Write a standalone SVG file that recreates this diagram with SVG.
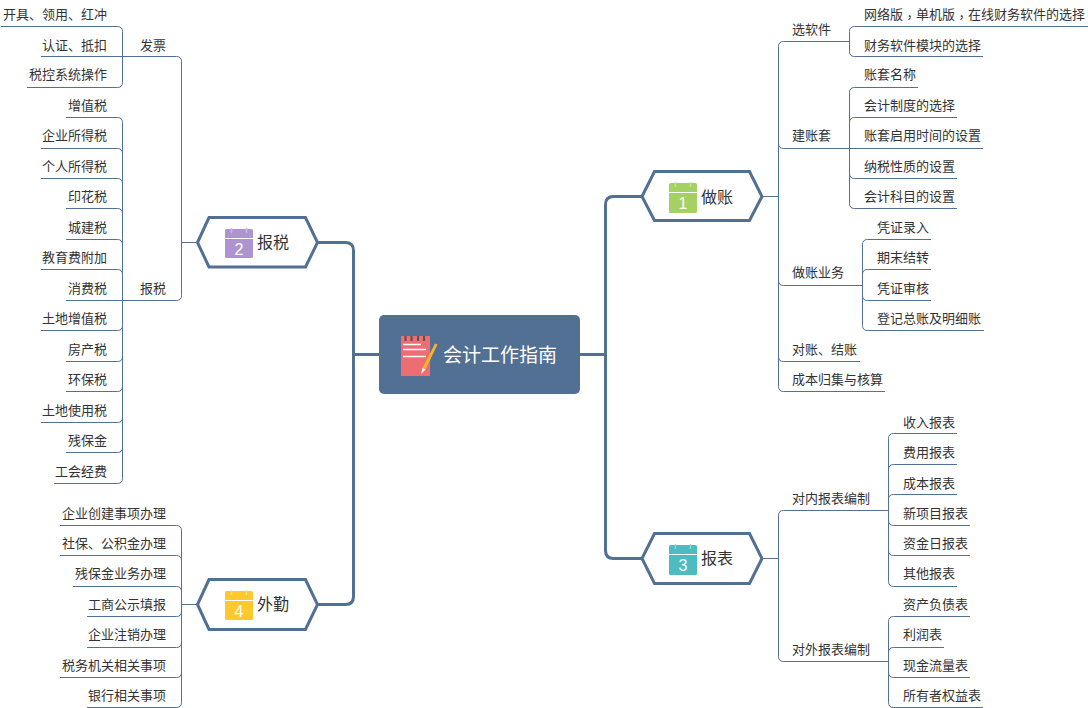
<svg xmlns="http://www.w3.org/2000/svg" width="1088" height="708" viewBox="0 0 1088 708">
<style>
text{font-family:"Noto Sans CJK SC","Liberation Sans",sans-serif;font-size:13px;fill:#333}
.e{text-anchor:end}
.thin{fill:none;stroke:#517093;stroke-width:1}
.thick{fill:none;stroke:#517093;stroke-width:3}
.hex{fill:#fff;stroke:#517093;stroke-width:3}
.h{font-size:16px}
.num{font-family:"Liberation Sans",sans-serif;font-size:16px;fill:#fff;text-anchor:middle}
.cut{fill:none;stroke:#fff;stroke-width:1}
.tc{font-family:"Noto Sans CJK TC",sans-serif}
</style>
<rect width="1088" height="708" fill="#fff"/>
<g id="connectors">
<path class="thick" d="M580 354.500H605.500M641 196.500H613.500Q605.500 196.500 605.500 204.500V550.500Q605.500 558.500 613.500 558.500H641"/>
<path class="thick" d="M379 354.500H353.500M318 242.500H345.500Q353.500 242.500 353.500 250.500V596.500Q353.500 604.500 345.500 604.500H318"/>
<path class="thin" d="M762 196.500H778.500M850 41.500H783.500Q778.500 41.500 778.500 46.500V386.500Q778.500 391.500 783.500 391.500H885M778.500 143.500Q778.500 148.500 783.500 148.500H850M778.500 280.500Q778.500 285.500 783.500 285.500H862.500M778.500 356.500Q778.500 361.500 783.500 361.500H860"/>
<path class="thin" d="M1088 26.500H854.500Q849.500 26.500 849.500 31.500V51.500Q849.500 56.500 854.500 56.500H983"/>
<path class="thin" d="M918 87.500H854.500Q849.500 87.500 849.500 92.500V203.500Q849.500 208.500 854.500 208.500H957M957 117.500H854.500Q849.500 117.500 849.500 122.500M850 148.500H983M849.500 173.500Q849.500 178.500 854.500 178.500H957"/>
<path class="thin" d="M931 239.500H867.500Q862.500 239.500 862.500 244.500V325.500Q862.500 330.500 867.500 330.500H984M931 269.500H867.500Q862.500 269.500 862.500 274.500M862.500 295.500Q862.500 300.500 867.500 300.500H931"/>
<path class="thin" d="M762 558.500H778.500M889 510.500H783.500Q778.500 510.500 778.500 515.500V656.500Q778.500 661.500 783.500 661.500H889"/>
<path class="thin" d="M957 433.500H893.500Q888.500 433.500 888.500 438.500V581.500Q888.500 586.500 893.500 586.500H957M957 464.500H893.500Q888.500 464.500 888.500 469.500M957 494.500H893.500Q888.500 494.500 888.500 499.500M888.500 520.500Q888.500 525.500 893.500 525.500H970M888.500 550.500Q888.500 555.500 893.500 555.500H970"/>
<path class="thin" d="M970 616.500H893.500Q888.500 616.500 888.500 621.500V702.500Q888.500 707.500 893.500 707.500H983M944 647.500H893.500Q888.500 647.500 888.500 652.500M888.500 672.500Q888.500 677.500 893.500 677.500H970"/>
<path class="thin" d="M197 242.500H181.500M123 56.500H176.500Q181.500 56.500 181.500 61.500V295.500Q181.500 300.500 176.500 300.500H66"/>
<path class="thin" d="M1 26.500H117.500Q122.500 26.500 122.500 31.500V82.500Q122.500 87.500 117.500 87.500H27M41 56.500H123"/>
<path class="thin" d="M66 117.500H117.500Q122.500 117.500 122.500 122.500V478.500Q122.500 483.500 117.500 483.500H54M41 148.500H117.500Q122.500 148.500 122.500 153.500M41 178.500H117.500Q122.500 178.500 122.500 183.500M66 208.500H117.500Q122.500 208.500 122.500 213.500M66 239.500H117.500Q122.500 239.500 122.500 244.500M41 269.500H117.500Q122.500 269.500 122.500 274.500M122.500 325.500Q122.500 330.500 117.500 330.500H41M122.500 356.500Q122.500 361.500 117.500 361.500H66M122.500 386.500Q122.500 391.500 117.500 391.500H66M122.500 417.500Q122.500 422.500 117.500 422.500H41M122.500 447.500Q122.500 452.500 117.500 452.500H66"/>
<path class="thin" d="M197 604.500H181.500M60 525.500H176.500Q181.500 525.500 181.500 530.500V702.500Q181.500 707.500 176.500 707.500H87M60 555.500H176.500Q181.500 555.500 181.500 560.500M73 586.500H176.500Q181.500 586.500 181.500 591.500M181.500 611.500Q181.500 616.500 176.500 616.500H87M181.500 642.500Q181.500 647.500 176.500 647.500H87M181.500 672.500Q181.500 677.500 176.500 677.500H60"/>
</g>
<g id="root">
<rect x="379" y="315" width="201" height="79" rx="5" fill="#517093"/>
<rect x="401" y="336" width="29" height="40" fill="#ec6d72"/>
<path d="M405.500 336v5M411.500 336v5M418 336v5M424 336v5" stroke="#555" stroke-width="2" fill="none"/>
<path d="M403 344.500h18M403 349.500h23M403 356.500h23" stroke="#fff" stroke-width="1.500" fill="none"/>
<path d="M435 343.500L437.500 344.500L425.500 369.500L422.500 368Z" fill="#fbb12c"/>
<path d="M422.500 368L425.500 369.500L421 374Z" fill="#fff"/>
<text x="443" y="361.500" style="font-size:19px;fill:#fff">会计工作指南</text>
</g>
<g id="n1">
<path class="hex" d="M642 196.500L654.500 171.500H749.500L762 196.500L749.500 220.500H654.500Z"/>
<rect x="669" y="183" width="28" height="30" rx="1.500" fill="#a5d063"/>
<path class="cut" d="M669 192.500H697"/>
<path d="M675.500 182v5M690.500 182v5" stroke="#c6e098" stroke-width="1.500"/>
<text class="num" x="683" y="209">1</text>
<text class="h" x="701" y="203">做账</text>
</g>
<g id="n2">
<path class="hex" d="M197.500 242.500L209 217.500H305.500L317.500 242.500L305.500 267H209Z"/>
<rect x="225" y="229" width="28" height="29" rx="1.500" fill="#ad93cf"/>
<path class="cut" d="M225 238.500H253"/>
<path d="M231.500 228v5M246.500 228v5" stroke="#cbb9e2" stroke-width="1.500"/>
<text class="num" x="239" y="255">2</text>
<text class="h" x="257" y="248">报税</text>
</g>
<g id="n3">
<path class="hex" d="M642 558.500L654.500 533.500H749.500L762 558.500L749.500 583.500H654.500Z"/>
<rect x="669" y="545" width="28" height="30" rx="1.500" fill="#4dbcc1"/>
<path class="cut" d="M669 554.500H697"/>
<path d="M675.500 544v5M690.500 544v5" stroke="#8ad6d9" stroke-width="1.500"/>
<text class="num" x="683" y="571">3</text>
<text class="h" x="701" y="564">报表</text>
</g>
<g id="n4">
<path class="hex" d="M197.500 604.500L209 579.500H305.500L317.500 604.500L305.500 629.500H209Z"/>
<rect x="225" y="591" width="28" height="29" rx="1.500" fill="#fdc92f"/>
<path class="cut" d="M225 600.500H253"/>
<path d="M231.500 590v5M246.500 590v5" stroke="#fde08a" stroke-width="1.500"/>
<text class="num" x="239" y="617">4</text>
<text class="h" x="257" y="610">外勤</text>
</g>
<g id="r1" transform="translate(0 .5)">
<text x="792" y="33">选软件</text><text x="864" y="18">网络版<tspan class="tc" dy="3">，</tspan><tspan dy="-3">单机版</tspan><tspan class="tc" dy="3">，</tspan><tspan dy="-3">在线财务软件的选择</tspan></text><text x="864" y="49">财务软件模块的选择</text>
<text x="792" y="139">建账套</text><text x="864" y="78">账套名称</text><text x="864" y="109">会计制度的选择</text><text x="864" y="139">账套启用时间的设置</text><text x="864" y="170">纳税性质的设置</text><text x="864" y="200">会计科目的设置</text>
<text x="792" y="276">做账业务</text><text x="877" y="231">凭证录入</text><text x="877" y="261">期末结转</text><text x="877" y="292">凭证审核</text><text x="877" y="322">登记总账及明细账</text>
<text x="792" y="353">对账、结账</text><text x="792" y="383">成本归集与核算</text>
</g>
<g id="r3" transform="translate(0 .5)">
<text x="792" y="502">对内报表编制</text><text x="903" y="426">收入报表</text><text x="903" y="456">费用报表</text><text x="903" y="487">成本报表</text><text x="903" y="517">新项目报表</text><text x="903" y="547">资金日报表</text><text x="903" y="577">其他报表</text>
<text x="792" y="653">对外报表编制</text><text x="903" y="608">资产负债表</text><text x="903" y="638">利润表</text><text x="903" y="669">现金流量表</text><text x="903" y="699">所有者权益表</text>
</g>
<g id="l2" transform="translate(0 .5)">
<text x="166" y="49" class="e">发票</text><text x="107" y="18" class="e">开具、领用、红冲</text><text x="107" y="49" class="e">认证、抵扣</text><text x="107" y="78" class="e">税控系统操作</text>
<text x="166" y="292" class="e">报税</text><text x="107" y="109" class="e">增值税</text><text x="107" y="139" class="e">企业所得税</text><text x="107" y="170" class="e">个人所得税</text><text x="107" y="200" class="e">印花税</text><text x="107" y="231" class="e">城建税</text><text x="107" y="261" class="e">教育费附加</text><text x="107" y="292" class="e">消费税</text><text x="107" y="322" class="e">土地增值税</text><text x="107" y="353" class="e">房产税</text><text x="107" y="383" class="e">环保税</text><text x="107" y="414" class="e">土地使用税</text><text x="107" y="444" class="e">残保金</text><text x="107" y="475" class="e">工会经费</text>
</g>
<g id="l4" transform="translate(0 .5)">
<text x="166" y="517" class="e">企业创建事项办理</text><text x="166" y="547" class="e">社保、公积金办理</text><text x="166" y="577" class="e">残保金业务办理</text><text x="166" y="608" class="e">工商公示填报</text><text x="166" y="638" class="e">企业注销办理</text><text x="166" y="669" class="e">税务机关相关事项</text><text x="166" y="699" class="e">银行相关事项</text>
</g>
</svg>
